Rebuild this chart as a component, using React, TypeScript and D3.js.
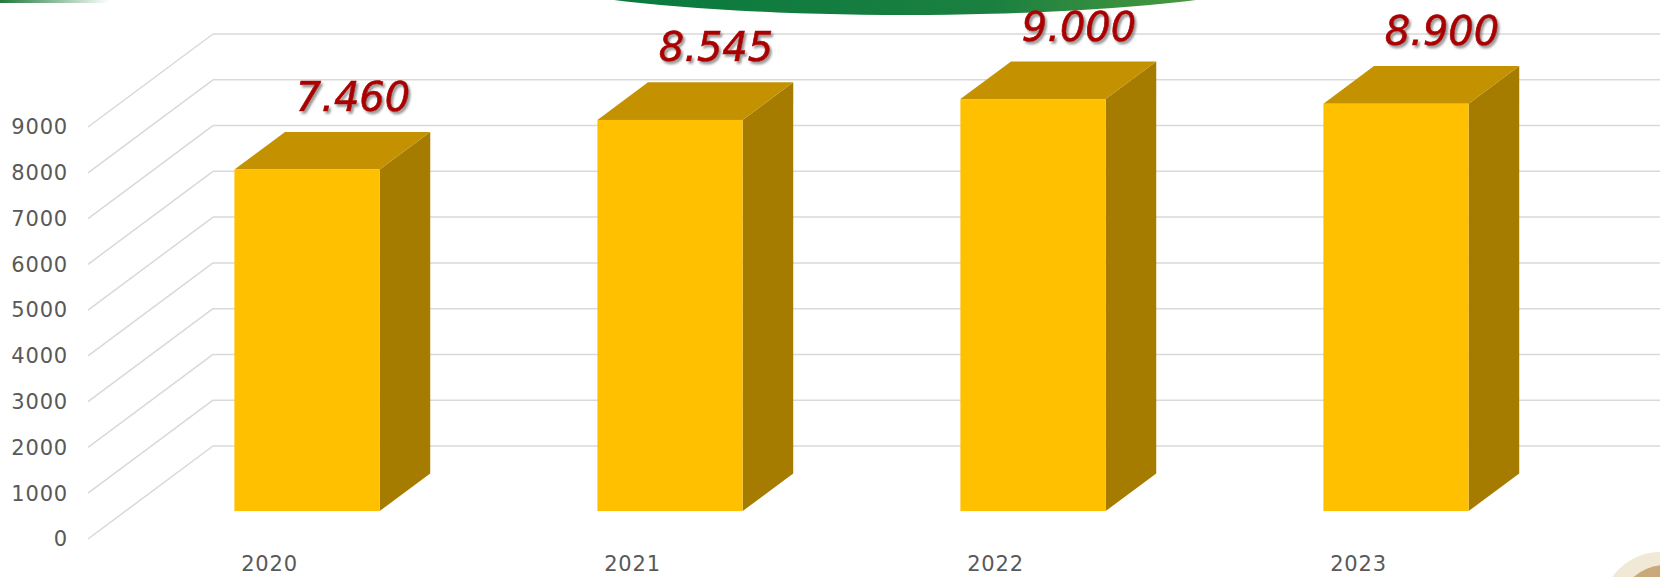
import React from "react";
import * as d3 from "d3";

const categories = ["2020", "2021", "2022", "2023"];
const values = [7460, 8545, 9000, 8900];
const valueLabels = ["7.460", "8.545", "9.000", "8.900"];
const yTicks = [0, 1000, 2000, 3000, 4000, 5000, 6000, 7000, 8000, 9000];

const W = 1660;
const H = 577;

export default function App() {
  const x = d3.scaleBand<string>().domain(categories).range([88, 1540]);
  const y = d3.scaleLinear().domain([0, 9000]).range([539, 127]);
  const DX = 125; // full floor depth in x
  const DY = -93; // full floor depth in y
  const d0 = 0.3;
  const d1 = 0.705;
  const bw = x.bandwidth() * 0.4;
  const wallX = 88 + DX;

  return (
    <svg
      width={W}
      height={H}
      style={{ position: "absolute", left: 0, top: 0, background: "#fff" }}
    >
      <defs>
        <linearGradient id="arc" x1="0" x2="1" y1="0" y2="0">
          <stop offset="0.2" stopColor="#0b7a3e" />
          <stop offset="0.6" stopColor="#1a8040" />
          <stop offset="0.85" stopColor="#4f9a3e" />
        </linearGradient>
        <linearGradient id="streak" x1="0" x2="1" y1="0" y2="0">
          <stop offset="0" stopColor="#1d7a3a" />
          <stop offset="1" stopColor="#1d7a3a" stopOpacity="0" />
        </linearGradient>
        <filter id="shadow" x="-20%" y="-20%" width="140%" height="160%">
          <feDropShadow dx="2" dy="2.5" stdDeviation="1.3" floodColor="#777" floodOpacity="0.75" />
        </filter>
      </defs>

      {/* decorative top arc */}
      <ellipse cx={905} cy={-45} rx={440} ry={60} fill="url(#arc)" />
      <rect x={0} y={0} width={110} height={3} fill="url(#streak)" />
      {/* decorative circle bottom right */}
      <circle cx={1660} cy={610} r={58} fill="#efe9d6" />
      <circle cx={1666} cy={615} r={50} fill="#c9a97a" />

      {/* gridlines */}
      {yTicks.map((t) => (
        <g key={t}>
          <line
            x1={88}
            y1={y(t)}
            x2={wallX}
            y2={y(t) + DY}
            stroke="#d9d9d9"
            strokeWidth={1.5}
          />
          <line
            x1={wallX}
            y1={y(t) + DY}
            x2={W}
            y2={y(t) + DY}
            stroke="#d9d9d9"
            strokeWidth={1.5}
          />
        </g>
      ))}

      {/* y tick labels */}
      {yTicks.map((t) => (
        <text
          key={"l" + t}
          x={68}
          y={y(t)}
          dy="0.35em"
          textAnchor="end"
          fontFamily="DejaVu Sans, sans-serif"
          fontSize={21}
          letterSpacing={0.8}
          fill="#595959"
        >
          {t}
        </text>
      ))}

      {/* bars */}
      {categories.map((c, i) => {
        const cx = (x(c) as number) + x.bandwidth() / 2;
        const fx = cx + d0 * DX - bw / 2;
        const fb = y(0) + d0 * DY;
        const ft = y(values[i]) + d0 * DY;
        const ddx = (d1 - d0) * DX;
        const ddy = (d1 - d0) * DY;
        const top = `M${fx},${ft} L${fx + bw},${ft} L${fx + bw + ddx},${ft + ddy} L${fx + ddx},${ft + ddy} Z`;
        const side = `M${fx + bw},${ft} L${fx + bw + ddx},${ft + ddy} L${fx + bw + ddx},${fb + ddy} L${fx + bw},${fb} Z`;
        return (
          <g key={c}>
            <path d={side} fill="#a67c00" />
            <path d={top} fill="#c49200" />
            <rect x={fx} y={ft} width={bw} height={fb - ft} fill="#ffc000" />
            <text
              x={fx + bw / 2 + 46}
              y={ft - 73}
              dy="0.36em"
              textAnchor="middle"
              fontFamily="DejaVu Sans, sans-serif"
              fontStyle="italic"
              fontSize={40}
              fill="#aa0000"
              stroke="#aa0000"
              strokeWidth={0.7}
              filter="url(#shadow)"
            >
              {valueLabels[i]}
            </text>
            <text
              x={cx}
              y={564}
              dy="0.35em"
              textAnchor="middle"
              fontFamily="DejaVu Sans, sans-serif"
              fontSize={21}
              letterSpacing={0.8}
              fill="#595959"
            >
              {c}
            </text>
          </g>
        );
      })}
    </svg>
  );
}
